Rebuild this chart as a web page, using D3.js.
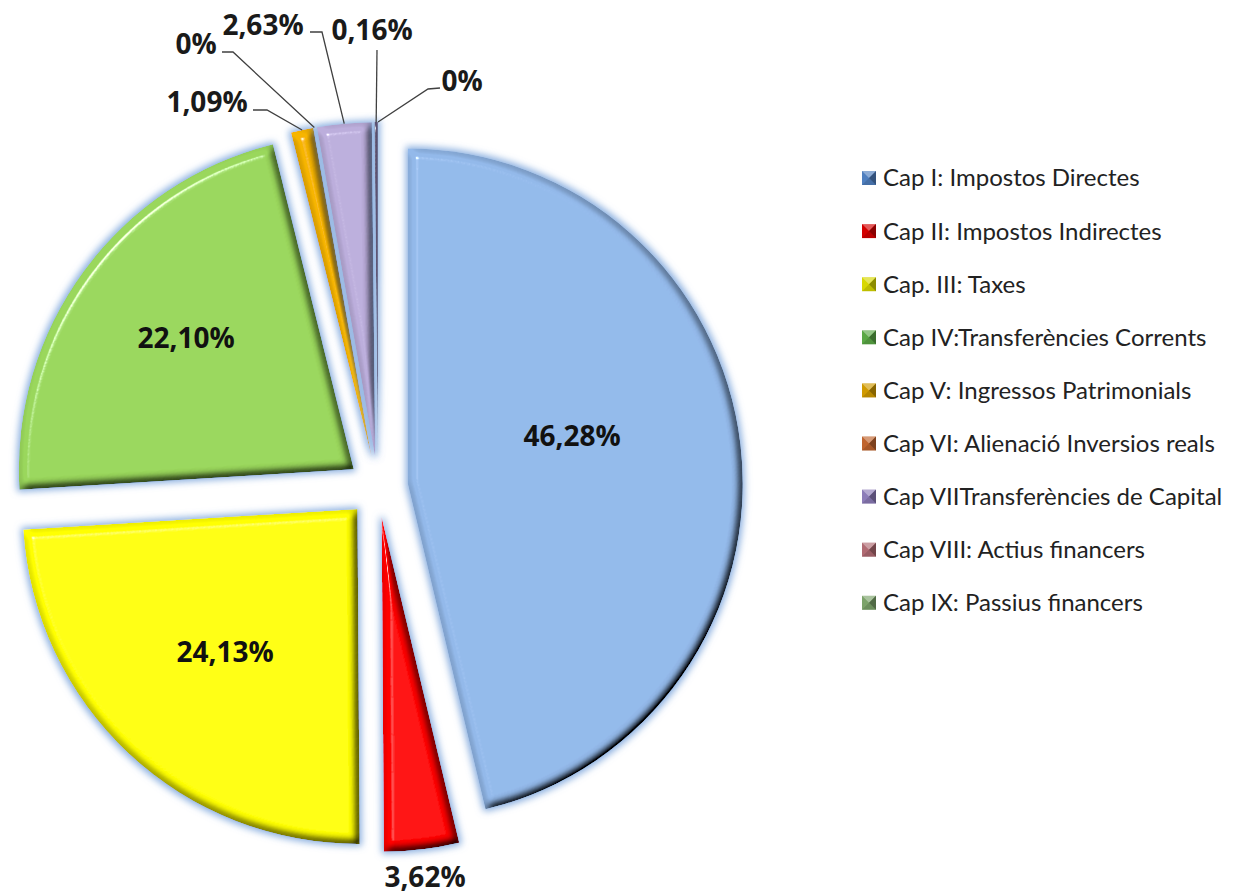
<!DOCTYPE html>
<html>
<head>
<meta charset="utf-8">
<script src="https://cdn.jsdelivr.net/npm/d3@7"></script>
<style>
  body { margin: 0; background: #fff; }
  svg { display: block; }
</style>
</head>
<body>
<div id="ingressos"></div>
<script>

// data
var categories = [
  "Cap I: Impostos Directes",
  "Cap II: Impostos Indirectes",
  "Cap. III: Taxes",
  "Cap IV:Transferències Corrents",
  "Cap V: Ingressos Patrimonials",
  "Cap VI: Alienació Inversios reals",
  "Cap VIITransferències de Capital",
  "Cap VIII: Actius financers",
  "Cap IX: Passius financers"
];
var values = [46.28, 3.62, 24.13, 22.10, 1.09, 0, 2.63, 0.16, 0];

// colours
var colors = ["#93b9ea", "#ff0000", "#ffff00", "#9ad75c", "#f7b500",
              "#c96a2e", "#bcaedc", "#5a5070", "#8fb57f"];
var legendColors = ["#4f7fbf", "#d40000", "#d8d800", "#5aa845", "#d09a00",
                    "#c0642d", "#8c7cb8", "#b06a72", "#7ca36a"];

// label placement (layout only)
var labelPos = [
  {x: 572, y: 436, inside: true},
  {x: 425, y: 877},
  {x: 225, y: 652, inside: true},
  {x: 186, y: 338, inside: true},
  {x: 207, y: 102, leader: [[253, 110], [267, 110]]},
  {x: 196, y: 44,  leader: [[222, 52], [233, 52]]},
  {x: 263, y: 25,  leader: [[310, 32], [322, 32]]},
  {x: 372, y: 30,  leader: [[377, 50]]},
  {x: 462, y: 81,  leader: [[440, 88], [428, 89]]}
];

var width = 1239, height = 894;
var cx = 378, cy = 487, radius = 335, explode = 30;

var svg = d3.select("#ingressos")
  .append("svg")
    .attr("width", width)
    .attr("height", height);

// bevel + glow filter
var defs = svg.append("defs");
var f = defs.append("filter")
    .attr("id", "bevel")
    .attr("filterUnits", "userSpaceOnUse")
    .attr("x", -500).attr("y", -500)
    .attr("width", 1000).attr("height", 1000);
f.append("feMorphology").attr("in", "SourceAlpha").attr("operator", "dilate").attr("radius", 2).attr("result", "dil");
f.append("feGaussianBlur").attr("in", "dil").attr("stdDeviation", 3.5).attr("result", "glowBlur");
f.append("feFlood").attr("flood-color", "#7da6dc").attr("flood-opacity", 0.9).attr("result", "glowCol");
f.append("feComposite").attr("in", "glowCol").attr("in2", "glowBlur").attr("operator", "in").attr("result", "glow");
f.append("feGaussianBlur").attr("in", "SourceAlpha").attr("stdDeviation", 4).attr("result", "ab");
var diff = f.append("feDiffuseLighting").attr("in", "ab").attr("surfaceScale", 10)
    .attr("diffuseConstant", 1.155).attr("lighting-color", "#fff").attr("result", "diff");
diff.append("feDistantLight").attr("azimuth", 225).attr("elevation", 60);
f.append("feComposite").attr("in", "SourceGraphic").attr("in2", "diff")
    .attr("operator", "arithmetic").attr("k1", 1).attr("result", "shaded");
var spec = f.append("feSpecularLighting").attr("in", "ab").attr("surfaceScale", 10)
    .attr("specularConstant", 0.7).attr("specularExponent", 128)
    .attr("lighting-color", "#fff").attr("result", "spec");
spec.append("feDistantLight").attr("azimuth", 225).attr("elevation", 60);
f.append("feComposite").attr("in", "spec").attr("in2", "SourceAlpha").attr("operator", "in").attr("result", "specIn");
f.append("feComposite").attr("in", "shaded").attr("in2", "specIn")
    .attr("operator", "arithmetic").attr("k2", 1).attr("k3", 1).attr("result", "lit");
f.append("feComposite").attr("in", "lit").attr("in2", "SourceAlpha").attr("operator", "in").attr("result", "litIn");
var merge = f.append("feMerge");
merge.append("feMergeNode").attr("in", "glow");
merge.append("feMergeNode").attr("in", "litIn");

// pie
var pie = d3.pie().sort(null).value(function(d) { return d; });
var arcs = pie(values);
var arc = d3.arc().innerRadius(0).outerRadius(radius);

function offset(d) {
  var a = (d.startAngle + d.endAngle) / 2;
  return [explode * Math.sin(a), -explode * Math.cos(a)];
}

var g = svg.append("g")
    .attr("transform", "translate(" + cx + "," + cy + ")");

g.selectAll("path.slice")
  .data(arcs.filter(function(d) { return d.value > 0; }))
  .enter()
  .append("path")
    .attr("class", "slice")
    .attr("transform", function(d) { var o = offset(d); return "translate(" + o[0] + "," + o[1] + ")"; })
    .attr("d", arc)
    .attr("fill", function(d) { return colors[d.index]; })
    .attr("filter", "url(#bevel)");

// leader lines
arcs.forEach(function(d, i) {
  var lp = labelPos[i];
  if (!lp.leader) return;
  var a = (d.startAngle + d.endAngle) / 2;
  var o = offset(d);
  var end = [cx + o[0] + radius * Math.sin(a), cy + o[1] - radius * Math.cos(a)];
  var pts = lp.leader.concat([end]);
  svg.append("path")
    .attr("d", d3.line()(pts))
    .attr("fill", "none")
    .attr("stroke", "#404040")
    .attr("stroke-width", 1.3);
});

// labels
function fmt(v) {
  return v === 0 ? "0%" : v.toFixed(2).replace(".", ",") + "%";
}
svg.selectAll("text.lbl")
  .data(values)
  .enter()
  .append("text")
    .attr("class", "lbl")
    .attr("x", function(d, i) { return labelPos[i].x; })
    .attr("y", function(d, i) { return labelPos[i].y; })
    .attr("dy", "0.35em")
    .attr("text-anchor", "middle")
    .style("font-family", "'Open Sans', sans-serif")
    .style("font-weight", "bold")
    .style("font-size", "28px")
    .style("fill", function(d, i) { return labelPos[i].inside ? "#111" : "#1a1a1a"; })
    .text(fmt);

// legend
var legend = svg.append("g")
    .attr("transform", "translate(862,178)");
var item = legend.selectAll("g")
  .data(categories)
  .enter()
  .append("g")
    .attr("transform", function(d, i) { return "translate(0," + (i * 53.1) + ")"; });

var s = 14;
item.append("rect")
    .attr("x", 0).attr("y", -s / 2)
    .attr("width", s).attr("height", s)
    .attr("fill", function(d, i) { return legendColors[i]; });
// bevel triangles on the markers
item.append("path")
    .attr("d", "M0," + (-s / 2) + "L" + s + "," + (-s / 2) + "L" + (s / 2) + ",0Z")
    .attr("fill", "#fff").attr("fill-opacity", 0.35);
item.append("path")
    .attr("d", "M" + s + "," + (-s / 2) + "L" + s + "," + (s / 2) + "L" + (s / 2) + ",0Z")
    .attr("fill", "#000").attr("fill-opacity", 0.35);
item.append("path")
    .attr("d", "M0," + (s / 2) + "L" + s + "," + (s / 2) + "L" + (s / 2) + ",0Z")
    .attr("fill", "#000").attr("fill-opacity", 0.12);

item.append("text")
    .attr("x", 21)
    .attr("y", 0)
    .attr("dy", "0.35em")
    .style("font-family", "Lato, sans-serif")
    .style("font-size", "24px")
    .style("fill", "#222")
    .text(function(d) { return d; });

</script>
</body>
</html>
